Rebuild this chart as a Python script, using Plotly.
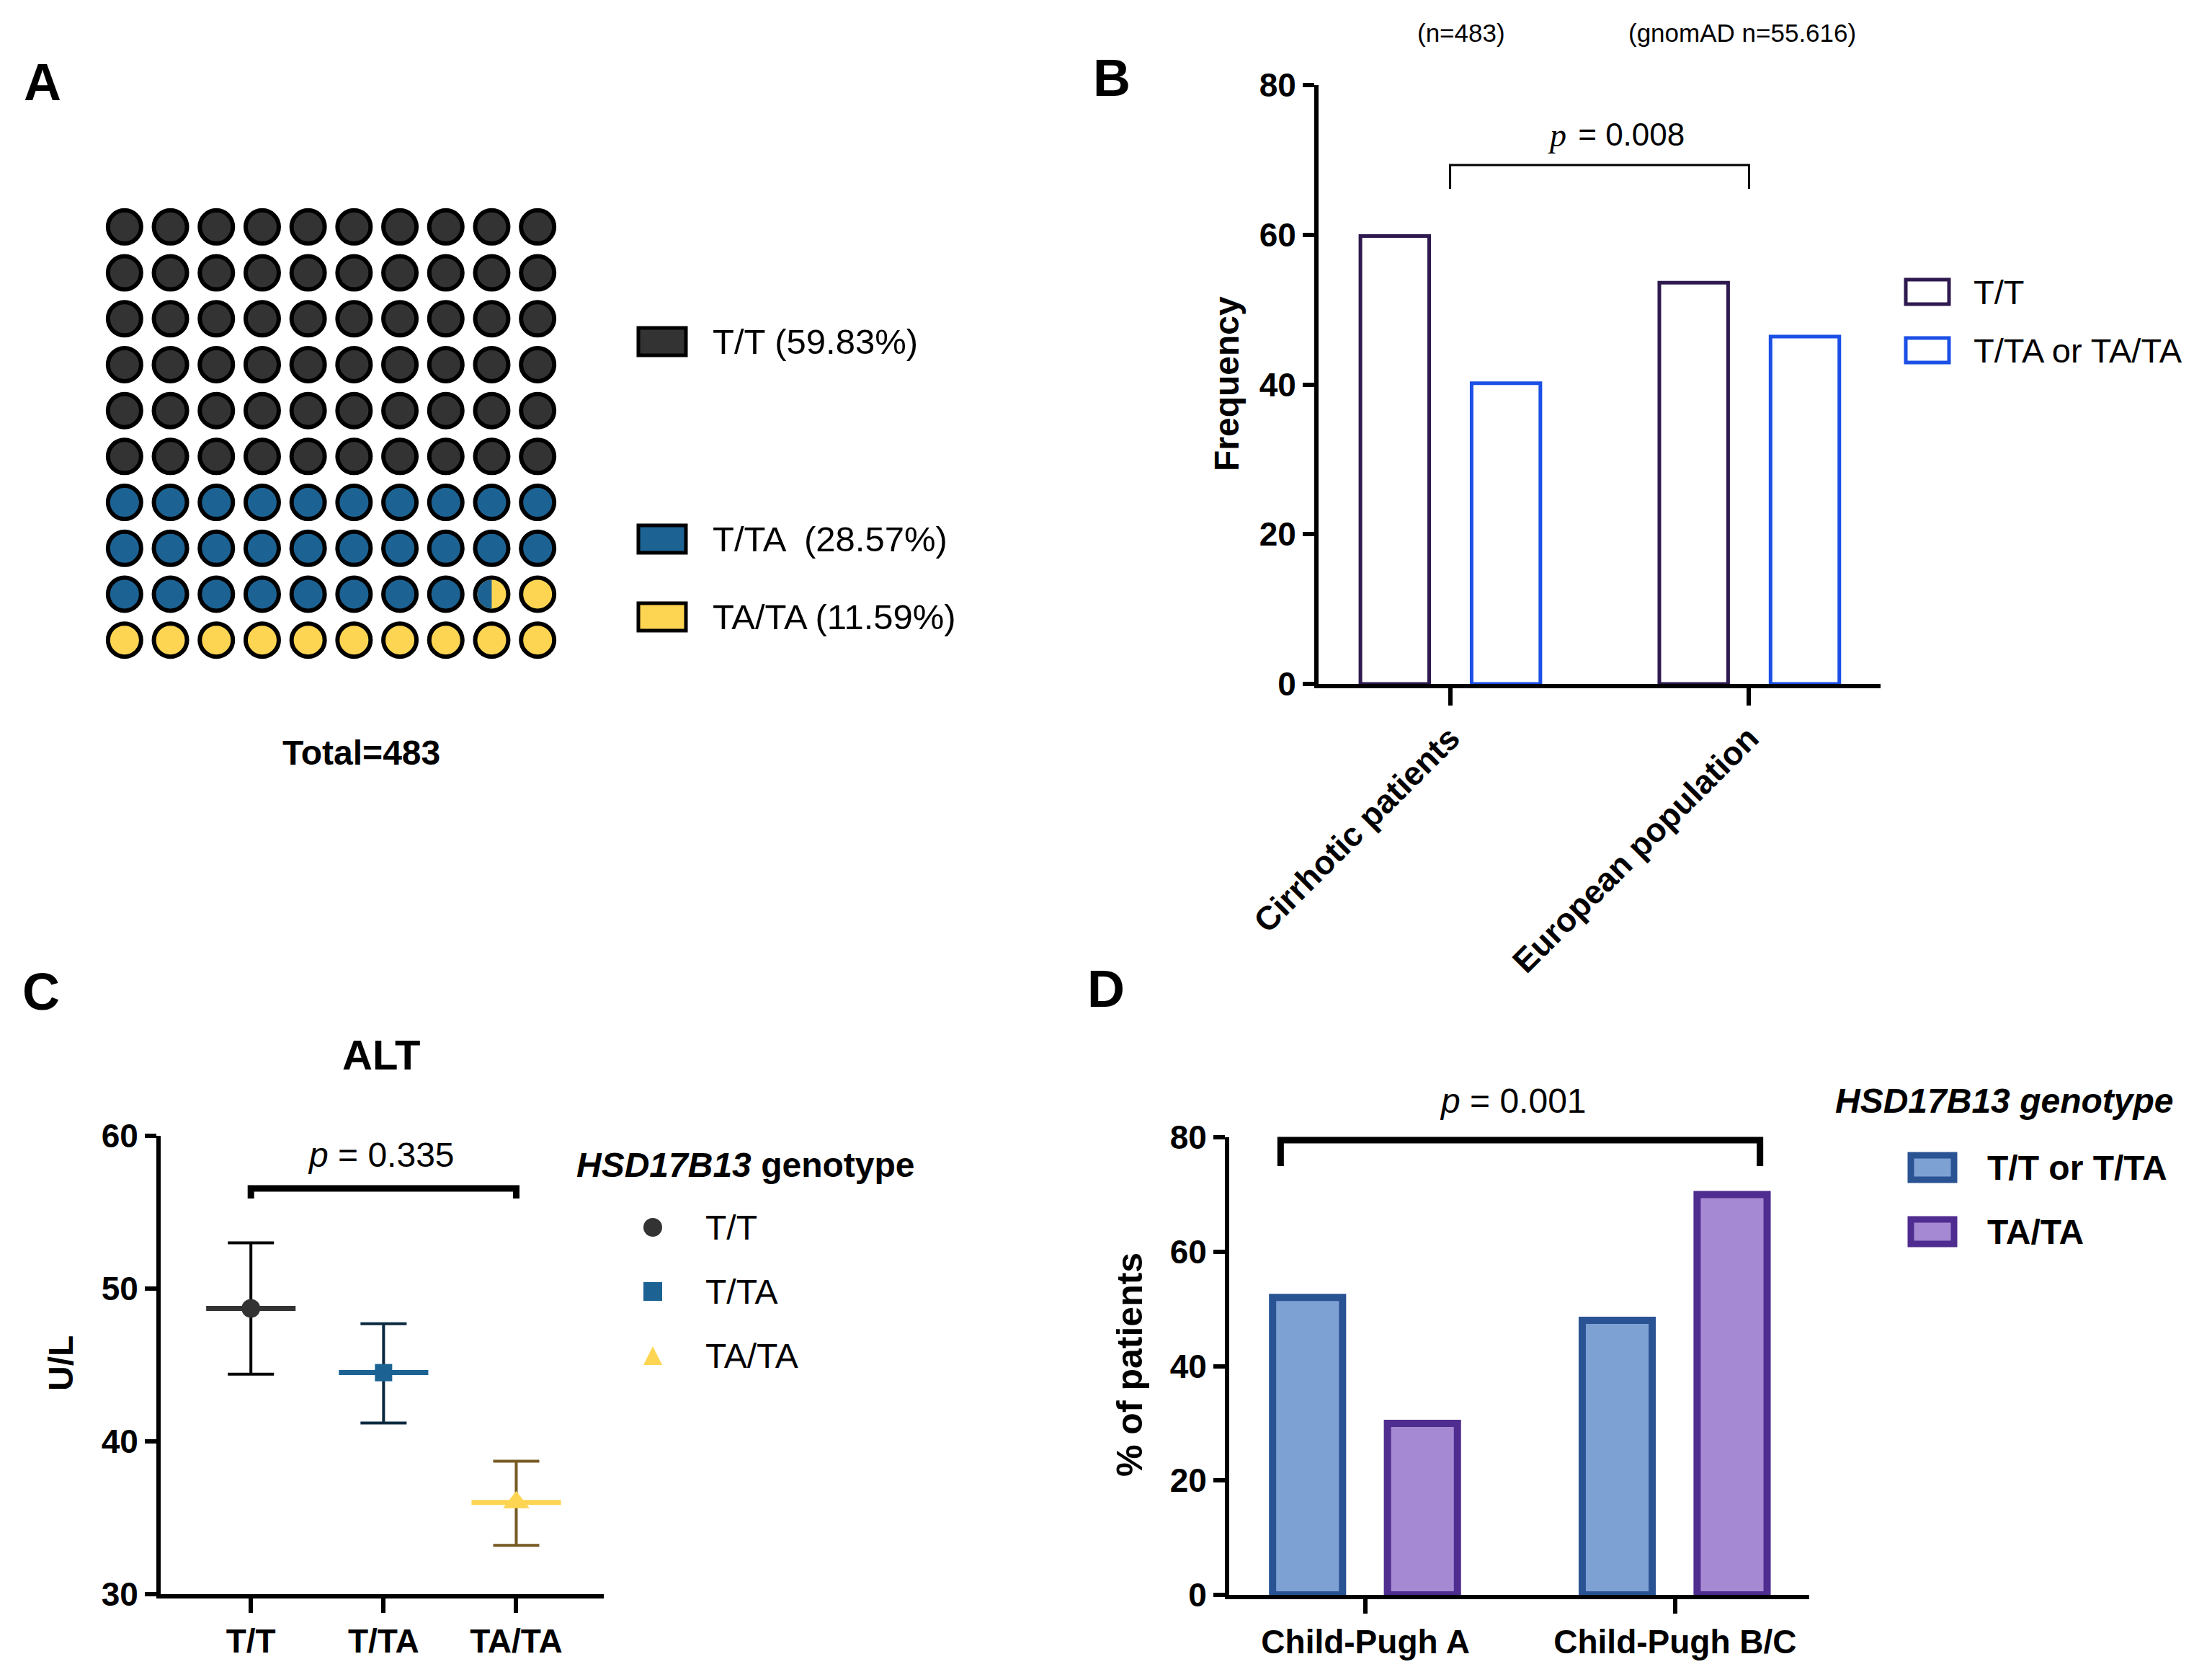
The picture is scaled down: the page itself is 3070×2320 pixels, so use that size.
import numpy as np
import plotly.graph_objects as go

W, H = 3070, 2320

# ---------------------------
# Data
# ---------------------------
# A: genotype distribution of the cohort
geno_labels = ["T/T", "T/TA", "TA/TA"]
geno_pct = [59.83, 28.57, 11.59]
geno_legend = ["T/T (59.83%)", "T/TA  (28.57%)", "TA/TA (11.59%)"]
total_n = 483

# B: cirrhotic patients vs european population
b_groups = ["Cirrhotic patients", "European population"]
b_tt = [59.83, 53.6]
b_ta_any = [40.17, 46.4]
b_series = ["T/T", "T/TA or TA/TA"]
b_n = ["(n=483)", "(gnomAD n=55.616)"]

# C: ALT by genotype (mean with CI)
c_genos = ["T/T", "T/TA", "TA/TA"]
c_mean = [48.7, 44.5, 36.0]
c_upper = [53.0, 47.7, 38.7]
c_lower = [44.4, 41.2, 33.2]

# D: Child-Pugh class by genotype
d_groups = ["Child-Pugh A", "Child-Pugh B/C"]
d_tt_tta = [52, 48]
d_tata = [30, 70]
d_series = ["T/T or T/TA", "TA/TA"]

# ---------------------------
# Helpers / styling
# ---------------------------
FONT = "Liberation Sans, Arial, sans-serif"
SERIF = "Liberation Serif, Times New Roman, serif"
OFF = 8  # page body margin


def px(x):
    return (x - OFF) / W


def py(y):
    return 1 - (y - OFF) / H


geno_colors = ["#333333", "#1c6394", "#fdd552"]
err_colors = ["#000000", "#0b2a3f", "#765a22"]
b_line_colors = ["#2e1a4f", "#1b4fe6"]
d_fill = ["#7ea1d4", "#a58ad3"]
d_line = ["#2a5394", "#4f2c8f"]

axis_style = dict(
    showline=True, linecolor="black", linewidth=6,
    ticks="outside", ticklen=16, tickwidth=6, tickcolor="black",
    showgrid=False, zeroline=False, automargin=False,
    tickfont=dict(family=FONT, size=46, color="black", weight="bold"),
)

fig = go.Figure()
shapes = []
annotations = []


def text(x, y, s, size, bold=False, anchor="center", angle=0, family=FONT):
    annotations.append(dict(
        x=px(x), y=py(y), xref="paper", yref="paper", text=s, showarrow=False,
        xanchor=anchor, yanchor="middle", textangle=angle,
        font=dict(family=family, size=size, color="black",
                  weight="bold" if bold else "normal"),
    ))


def bracket(xref, x0, x1, ytop, ybot, width):
    shapes.append(dict(
        type="path", xref=xref, yref="paper", layer="above",
        path=f"M {x0},{py(ybot)} L {x0},{py(ytop)} L {x1},{py(ytop)} L {x1},{py(ybot)}",
        line=dict(color="black", width=width),
    ))


# ---------------------------
# A: waffle chart
# ---------------------------
bounds = np.round(np.cumsum(geno_pct) * 2) / 2
cells = np.arange(100)
cell_cat = np.searchsorted(bounds, cells + 0.5, side="right")
cell_cat = np.clip(cell_cat, 0, len(geno_labels) - 1)
rows, cols = cells // 10, cells % 10

fig.add_trace(go.Scatter(
    x=cols, y=rows, mode="markers", xaxis="x", yaxis="y",
    marker=dict(size=46, color=[geno_colors[c] for c in cell_cat],
                line=dict(color="black", width=6)),
    hoverinfo="skip", showlegend=False,
))

# cells cut by a category boundary get their left half in the previous colour
A_X0, A_X1, A_Y0, A_Y1 = 141, 778, 283, 920
unit_x = (A_X1 - A_X0) / 10
unit_y = (A_Y1 - A_Y0) / 10
r_in = 20
theta = np.linspace(np.pi / 2, 3 * np.pi / 2, 40)
for k, b in enumerate(bounds[:-1]):
    if b % 1:
        i = int(b)
        cx, cy = i % 10, i // 10
        hx = cx + r_in / unit_x * np.cos(theta)
        hy = cy - r_in / unit_y * np.sin(theta)
        fig.add_trace(go.Scatter(
            x=hx, y=hy, mode="lines", fill="toself", xaxis="x", yaxis="y",
            fillcolor=geno_colors[k], line=dict(width=0),
            hoverinfo="skip", showlegend=False,
        ))

legend_a_y = [474, 748, 856]
for lab, col, yy in zip(geno_legend, geno_colors, legend_a_y):
    shapes.append(dict(type="rect", xref="paper", yref="paper",
                       x0=px(886), x1=px(952), y0=py(yy - 19), y1=py(yy + 19),
                       fillcolor=col, line=dict(color="black", width=5)))
    text(987, yy, lab, 49, anchor="left")
text(501, 1044, f"Total={total_n}", 48, bold=True)
text(59, 114, "A", 72, bold=True)

# ---------------------------
# B: frequency bars
# ---------------------------
for vals, off, col, name in zip([b_tt, b_ta_any], [-0.30, 0.072], b_line_colors, b_series):
    fig.add_trace(go.Bar(
        x=b_groups, y=vals, xaxis="x2", yaxis="y2", name=name,
        offset=off, width=0.23,
        marker=dict(color="white", line=dict(color=col, width=5)),
        showlegend=False,
    ))
for k, (name, col) in enumerate(zip(b_series, b_line_colors)):
    yy = 405 + 81 * k
    shapes.append(dict(type="rect", xref="paper", yref="paper",
                       x0=px(2645), x1=px(2705), y0=py(yy - 17), y1=py(yy + 17),
                       fillcolor="white", line=dict(color=col, width=5)))
    text(2737, yy, name, 47, anchor="left")
text(2028, 46, b_n[0], 35)
text(2418, 46, b_n[1], 35)
bracket("x2", 0, 1, 229, 262, 3)
text(2176, 188, "<i>p</i>", 46, anchor="right", family=SERIF)
text(2176, 186, " = 0.008", 44, anchor="left")
text(1703, 533, "Frequency", 48, bold=True, angle=-90)
text(1543, 108, "B", 72, bold=True)

# ---------------------------
# C: ALT mean with error bars
# ---------------------------
c_pos = list(range(len(c_genos)))
symbols = ["circle", "square", "triangle-up"]
sizes = [26, 24, 32]
for i, g in enumerate(c_genos):
    fig.add_trace(go.Scatter(
        x=[c_pos[i]], y=[c_mean[i]], mode="markers", xaxis="x3", yaxis="y3", name=g,
        marker=dict(symbol=symbols[i], size=sizes[i], color=geno_colors[i]),
        error_y=dict(type="data", symmetric=False,
                     array=[c_upper[i] - c_mean[i]],
                     arrayminus=[c_mean[i] - c_lower[i]],
                     color=err_colors[i], thickness=4, width=32),
        error_x=dict(type="constant", value=0.337, color=geno_colors[i],
                     thickness=7, width=0),
        showlegend=False,
    ))
bracket("x3", 0, 2, 1649, 1663, 9)
annotations.append(dict(
    x=px(529), y=py(1602), xref="paper", yref="paper", showarrow=False,
    xanchor="center", yanchor="middle",
    text="<i>p</i> = 0.335", font=dict(family=FONT, size=48, color="black"),
))
text(529, 1463, "ALT", 58, bold=True)
text(84, 1892, "U/L", 48, bold=True, angle=-90)
text(798, 1616, "<i>HSD17B13</i> genotype", 48, bold=True, anchor="left")
legend_c_y = [1703, 1792, 1881]
mx, ms = 906, 13
shapes.append(dict(type="circle", xref="paper", yref="paper",
                   x0=px(mx - ms), x1=px(mx + ms), y0=py(legend_c_y[0] + ms), y1=py(legend_c_y[0] - ms),
                   fillcolor=geno_colors[0], line=dict(width=0)))
shapes.append(dict(type="rect", xref="paper", yref="paper",
                   x0=px(mx - ms), x1=px(mx + ms), y0=py(legend_c_y[1] + ms), y1=py(legend_c_y[1] - ms),
                   fillcolor=geno_colors[1], line=dict(width=0)))
ty = legend_c_y[2]
shapes.append(dict(type="path", xref="paper", yref="paper",
                   path=f"M {px(mx - ms)},{py(ty + ms)} L {px(mx + ms)},{py(ty + ms)} L {px(mx)},{py(ty - ms)} Z",
                   fillcolor=geno_colors[2], line=dict(width=0)))
for g, yy in zip(c_genos, legend_c_y):
    text(977, yy, g, 48, anchor="left")
text(57, 1376, "C", 72, bold=True)

# ---------------------------
# D: Child-Pugh bars
# ---------------------------
for vals, off, fc, lc, name in zip([d_tt_tta, d_tata], [-0.30, 0.071], d_fill, d_line, d_series):
    fig.add_trace(go.Bar(
        x=d_groups, y=vals, xaxis="x4", yaxis="y4", name=name,
        offset=off, width=0.226,
        marker=dict(color=fc, line=dict(color=lc, width=10)),
        showlegend=False,
    ))
bracket("x4", -0.274, 1.274, 1582, 1618, 9)
annotations.append(dict(
    x=px(2100), y=py(1527), xref="paper", yref="paper", showarrow=False,
    xanchor="center", yanchor="middle",
    text="<i>p</i> = 0.001", font=dict(family=FONT, size=48, color="black"),
))
text(1568, 1894, "% of patients", 50, bold=True, angle=-90)
text(2545, 1527, "<i>HSD17B13 genotype</i>", 48, bold=True, anchor="left")
for k, (name, fc, lc) in enumerate(zip(d_series, d_fill, d_line)):
    yy = 1620 + 89 * k
    shapes.append(dict(type="rect", xref="paper", yref="paper",
                       x0=px(2652), x1=px(2712), y0=py(yy - 17), y1=py(yy + 17),
                       fillcolor=fc, line=dict(color=lc, width=9)))
    text(2756, yy, name, 48, bold=True, anchor="left")
text(1535, 1372, "D", 72, bold=True)

# ---------------------------
# Layout
# ---------------------------
fig.update_layout(
    template="none",
    width=W, height=H, autosize=False,
    margin=dict(l=0, r=0, t=0, b=0, pad=0, autoexpand=False),
    paper_bgcolor="white", plot_bgcolor="white",
    barmode="overlay", showlegend=False,
    font=dict(family=FONT, color="black"),
    xaxis=dict(domain=[px(A_X0), px(A_X1)], range=[-0.5, 9.5], visible=False,
               anchor="y", automargin=False),
    yaxis=dict(domain=[py(A_Y1), py(A_Y0)], range=[9.5, -0.5], visible=False,
               anchor="x", automargin=False),
    xaxis2=dict(axis_style, domain=[px(1830), px(2610)], range=[-0.44, 1.44],
                anchor="y2", tickangle=-45, ticklen=24),
    yaxis2=dict(axis_style, domain=[py(949), py(118)], range=[0, 80],
                tickvals=[0, 20, 40, 60, 80], anchor="x2"),
    xaxis3=dict(axis_style, domain=[px(223), px(838)], range=[-0.68, 2.66],
                tickvals=c_pos, ticktext=c_genos, anchor="y3", ticklen=20),
    yaxis3=dict(axis_style, domain=[py(2212), py(1576)], range=[30, 60],
                tickvals=[30, 40, 50, 60], anchor="x3"),
    xaxis4=dict(axis_style, domain=[px(1706), px(2511)], range=[-0.44, 1.433],
                anchor="y4", ticklen=20),
    yaxis4=dict(axis_style, domain=[py(2213), py(1578)], range=[0, 80],
                tickvals=[0, 20, 40, 60, 80], anchor="x4"),
    shapes=shapes,
    annotations=annotations,
)

fig.write_html("out.html")
